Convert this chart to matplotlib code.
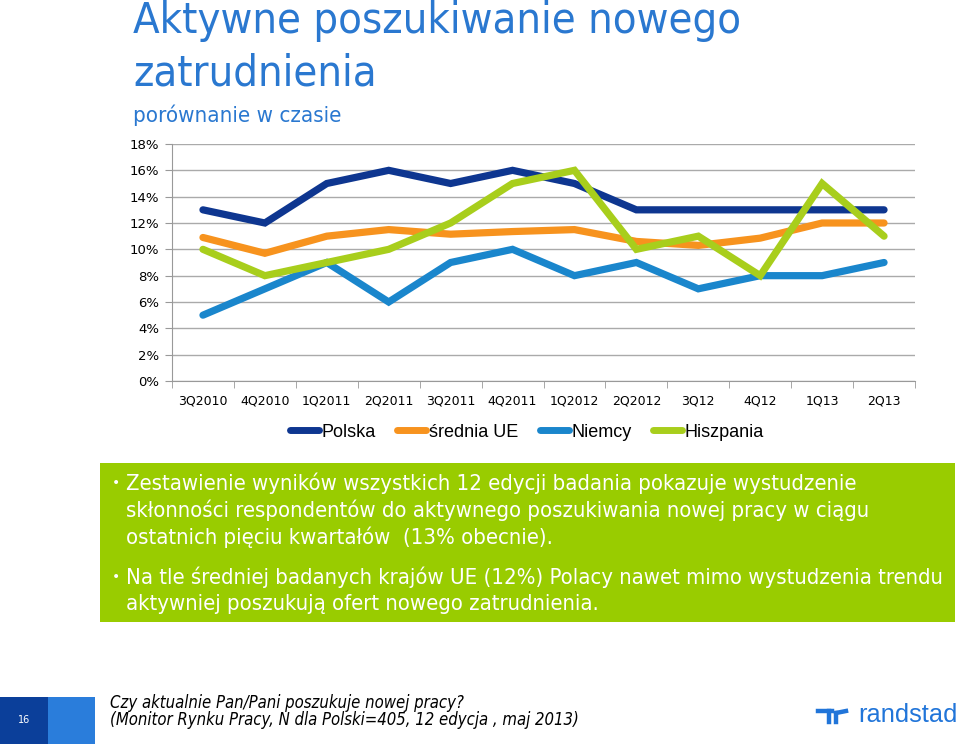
import matplotlib
matplotlib.use("Agg")
import matplotlib.pyplot as plt
from matplotlib.patches import Rectangle
from matplotlib.lines import Line2D

categories = ["3Q2010", "4Q2010", "1Q2011", "2Q2011", "3Q2011", "4Q2011",
              "1Q2012", "2Q2012", "3Q12", "4Q12", "1Q13", "2Q13"]
polska = [13, 12, 15, 16, 15, 16, 15, 13, 13, 13, 13, 13]
srednia_ue = [10.9, 9.7, 11.0, 11.5, 11.15, 11.35, 11.5, 10.6, 10.3, 10.85, 12.0, 12.0]
niemcy = [5, 7, 9, 6, 9, 10, 8, 9, 7, 8, 8, 9]
hiszpania = [10, 8, 9, 10, 12, 15, 16, 10, 11, 8, 15, 11]
series_names = ["Polska", "średnia UE", "Niemcy", "Hiszpania"]
colors = ["#0E3690", "#F7931E", "#1A86CC", "#A8CE1C"]
y_ticks = [0, 2, 4, 6, 8, 10, 12, 14, 16, 18]

W, H = 960, 744
def fx(x): return x / W
def fy(y): return 1 - y / H

fig = plt.figure(figsize=(9.6, 7.44), dpi=100)
fig.patch.set_facecolor("white")

FONT = ["DejaVu Sans"]
TITLE_C = "#2A78D0"

fig.text(fx(133), fy(21), "Aktywne poszukiwanie nowego", fontsize=31.2, color=TITLE_C,
         family=FONT, fontstretch="condensed", va="center", ha="left")
fig.text(fx(133), fy(73), "zatrudnienia", fontsize=31.2, color=TITLE_C,
         family=FONT, fontstretch="condensed", va="center", ha="left")
fig.text(fx(133), fy(115), "porównanie w czasie", fontsize=16, color=TITLE_C,
         family=FONT, fontstretch="condensed", va="center", ha="left")

ax = fig.add_axes([fx(172), fy(381), (915 - 172) / W, (381 - 144) / H])
x = list(range(len(categories)))
for vals, name, c in zip([polska, srednia_ue, niemcy, hiszpania], series_names, colors):
    ax.plot(x, vals, color=c, lw=5.2, label=name, solid_capstyle="round",
            solid_joinstyle="miter", zorder=3)

ax.set_xlim(-0.5, len(categories) - 0.5)
ax.set_ylim(0, 18)
ax.set_yticks(y_ticks)
ax.set_yticklabels([f"{v}%" for v in y_ticks], fontsize=9.5, family=FONT)
ax.set_xticks(x)
ax.set_xticklabels(categories, fontsize=9, family=FONT)
ax.set_xticks([i - 0.5 for i in range(len(categories) + 1)], minor=True)
ax.tick_params(axis="x", which="major", length=0, pad=10)
ax.tick_params(axis="x", which="minor", length=5, color="#999999")
ax.tick_params(axis="y", length=5, color="#999999", pad=4)
ax.grid(axis="y", color="#AAAAAA", lw=1)
ax.set_axisbelow(True)
for s in ["top", "right"]:
    ax.spines[s].set_visible(False)
ax.spines["left"].set_color("#999999")
ax.spines["bottom"].set_color("#999999")

handles = [Line2D([0], [0], color=c, lw=5, solid_capstyle="round") for c in colors]
fig.legend(handles, series_names, loc="center", bbox_to_anchor=(fx(527), fy(432)),
           ncol=4, frameon=False, handlelength=1.6, handletextpad=0.15,
           columnspacing=1.2, prop={"family": "Liberation Sans", "size": 13})

# green box
fig.patches.append(Rectangle((fx(100), fy(622)), (955 - 100) / W, (622 - 463) / H,
                             transform=fig.transFigure, facecolor="#99CC00",
                             edgecolor="none", zorder=0))
lines = [
    (483, True, "Zestawienie wyników wszystkich 12 edycji badania pokazuje wystudzenie"),
    (510, False, "skłonności respondentów do aktywnego poszukiwania nowej pracy w ciągu"),
    (537, False, "ostatnich pięciu kwartałów  (13% obecnie)."),
    (577, True, "Na tle średniej badanych krajów UE (12%) Polacy nawet mimo wystudzenia trendu"),
    (604, False, "aktywniej poszukują ofert nowego zatrudnienia."),
]
for y, bullet, t in lines:
    if bullet:
        fig.text(fx(112), fy(y), "•", fontsize=10, color="white", family=FONT,
                 va="center", ha="left")
    fig.text(fx(126), fy(y), t, fontsize=15.8, color="white", family=FONT,
             fontstretch="condensed", va="center", ha="left")

# footer
fig.patches.append(Rectangle((0, 0), fx(48), 47 / H, transform=fig.transFigure,
                             facecolor="#0B3F9A", edgecolor="none"))
fig.patches.append(Rectangle((fx(48), 0), 47 / W, 47 / H, transform=fig.transFigure,
                             facecolor="#2A7DDB", edgecolor="none"))
fig.text(fx(24), fy(720), "16", fontsize=7, color="white", family=FONT,
         va="center", ha="center")
fig.text(fx(110), fy(703), "Czy aktualnie Pan/Pani poszukuje nowej pracy?", fontsize=12,
         color="black", family=FONT, style="italic", fontstretch="condensed",
         va="center", ha="left")
fig.text(fx(110), fy(720), "(Monitor Rynku Pracy, N dla Polski=405, 12 edycja , maj 2013)",
         fontsize=12, color="black", family=FONT, style="italic", fontstretch="condensed",
         va="center", ha="left")

# randstad logo
LOGO_C = "#2175D9"
lw_logo = 3.2
fig.add_artist(Line2D([fx(818), fx(832)], [fy(711), fy(711)], transform=fig.transFigure,
                      color=LOGO_C, lw=lw_logo))
fig.add_artist(Line2D([fx(829), fx(829)], [fy(711), fy(722)], transform=fig.transFigure,
                      color=LOGO_C, lw=lw_logo))
fig.add_artist(Line2D([fx(836), fx(836)], [fy(722), fy(713)], transform=fig.transFigure,
                      color=LOGO_C, lw=lw_logo))
fig.add_artist(Line2D([fx(836), fx(846)], [fy(713), fy(711)], transform=fig.transFigure,
                      color=LOGO_C, lw=lw_logo))
fig.text(fx(858), fy(715), "randstad", fontsize=18.3, color=LOGO_C,
         family="Liberation Sans", va="center", ha="left")

fig.savefig("out.png", dpi=100)
